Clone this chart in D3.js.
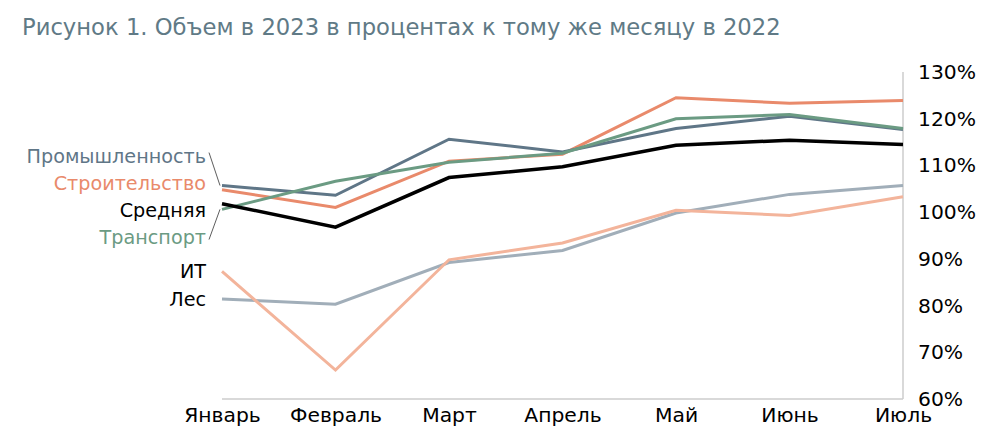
<!DOCTYPE html>
<html><head><meta charset="utf-8">
<script src="https://cdn.jsdelivr.net/npm/d3@7"></script>
<style>
html,body{margin:0;padding:0;background:#fff;}
svg{display:block;font-family:"DejaVu Sans",Verdana,sans-serif;}
</style></head>
<body><svg id="c" width="995" height="447"></svg>
<script>
const titleText = "Рисунок 1. Объем в 2023 в процентах к тому же месяцу в 2022";
const months = ["Январь","Февраль","Март","Апрель","Май","Июнь","Июль"];
const seriesNames = ["Промышленность","Строительство","Средняя","Транспорт","ИТ","Лес"];
const promValues   = [105.7,103.6,115.6,112.9,117.9,120.5,117.7];
const stroyValues  = [104.8,101.0,110.9,112.4,124.5,123.3,123.9];
const avgValues    = [101.8, 96.8,107.4,109.7,114.3,115.4,114.5];
const transValues  = [100.6,106.6,110.7,112.6,120.0,120.9,117.9];
const itValues     = [ 87.3, 66.2, 89.8, 93.4,100.4, 99.3,103.3];
const lesValues    = [ 81.4, 80.3, 89.2, 91.8, 99.8,103.8,105.7];
const yTicks = [60,70,80,90,100,110,120,130];

const colors = ["#5f7687","#e98a6b","#000000","#6b9b83","#f3b49b","#a1aeb9"];
const labelColors = ["#5f7687","#e98a6b","#000000","#6b9b83","#000000","#000000"];
const widths = [3,3,3.5,3,3,3];
const allValues = [promValues,stroyValues,avgValues,transValues,itValues,lesValues];
const drawOrder = [5,4,1,0,3,2];

const svg = d3.select("#c");
const x = d3.scalePoint().domain(months).range([222,903]);
const y = d3.scaleLinear().domain([60,130]).range([399,72]);

// title, fitted to width
const t = svg.append("text").attr("x",22).attr("y",35)
  .attr("fill","#607a86").attr("font-size",21).text(titleText);
const tw = t.node().getComputedTextLength();
t.attr("font-size", 21*759/tw);

// axis lines
svg.append("line").attr("x1",222).attr("x2",903).attr("y1",y(60)).attr("y2",y(60))
  .attr("stroke","#cccccc").attr("stroke-width",1.5);
svg.append("line").attr("x1",903).attr("x2",903).attr("y1",y(130)).attr("y2",y(60))
  .attr("stroke","#cccccc").attr("stroke-width",1.5);

// right axis
const yAxis = d3.axisRight(y).tickValues(yTicks).tickSize(0).tickPadding(0)
  .tickFormat(d=>d+"%");
const ga = svg.append("g").attr("transform","translate(918,0)").call(yAxis);
ga.select(".domain").remove();
ga.selectAll("text").attr("font-size",20.3).attr("fill","#000")
  .attr("font-family","DejaVu Sans, Verdana, sans-serif");

// bottom axis (labels only)
const xAxis = d3.axisBottom(x).tickSize(0).tickPadding(0);
const gx = svg.append("g").attr("transform","translate(0,408)").call(xAxis);
gx.select(".domain").remove();
gx.selectAll("text").attr("font-size",20.3).attr("fill","#000")
  .attr("font-family","DejaVu Sans, Verdana, sans-serif");

// lines
const line = d3.line().x((d,i)=>x(months[i])).y(d=>y(d));
drawOrder.forEach(i=>{
  svg.append("path").datum(allValues[i]).attr("d",line)
    .attr("fill","none").attr("stroke",colors[i]).attr("stroke-width",widths[i])
    .attr("stroke-linejoin","miter");
});

// left labels with simple dodging
const spacing = 27;
let labs = seriesNames.map((n,i)=>({n,i,ly:y(allValues[i][0]),py:y(allValues[i][0])}));
labs.sort((a,b)=>a.ly-b.ly);
let clusters = labs.map(l=>({items:[l],c:l.ly}));
let changed=true;
while(changed){
  changed=false;
  for(let k=0;k<clusters.length-1;k++){
    const a=clusters[k], b=clusters[k+1];
    const aBottom = a.c + (a.items.length-1)*spacing/2;
    const bTop = b.c - (b.items.length-1)*spacing/2;
    if(bTop - aBottom < spacing){
      const items=a.items.concat(b.items);
      const c=d3.mean(items,d=>d.py);
      clusters.splice(k,2,{items,c});
      changed=true;break;
    }
  }
}
clusters.forEach(cl=>{
  const n=cl.items.length;
  cl.items.forEach((it,j)=>{ it.ly = cl.c + (j-(n-1)/2)*spacing; });
});
labs.forEach(l=>{
  svg.append("text").attr("x",206).attr("y",l.ly).attr("dy","0.35em")
    .attr("text-anchor","end").attr("font-size",19.2)
    .attr("fill", labelColors[l.i]).text(l.n);
  if(Math.abs(l.ly-l.py)>15){
    svg.append("line").attr("x1",209).attr("y1",l.ly+(l.ly<l.py?-4:2))
      .attr("x2",220).attr("y2",l.py)
      .attr("stroke","#333").attr("stroke-width",0.8);
  }
});
</script></body></html>
